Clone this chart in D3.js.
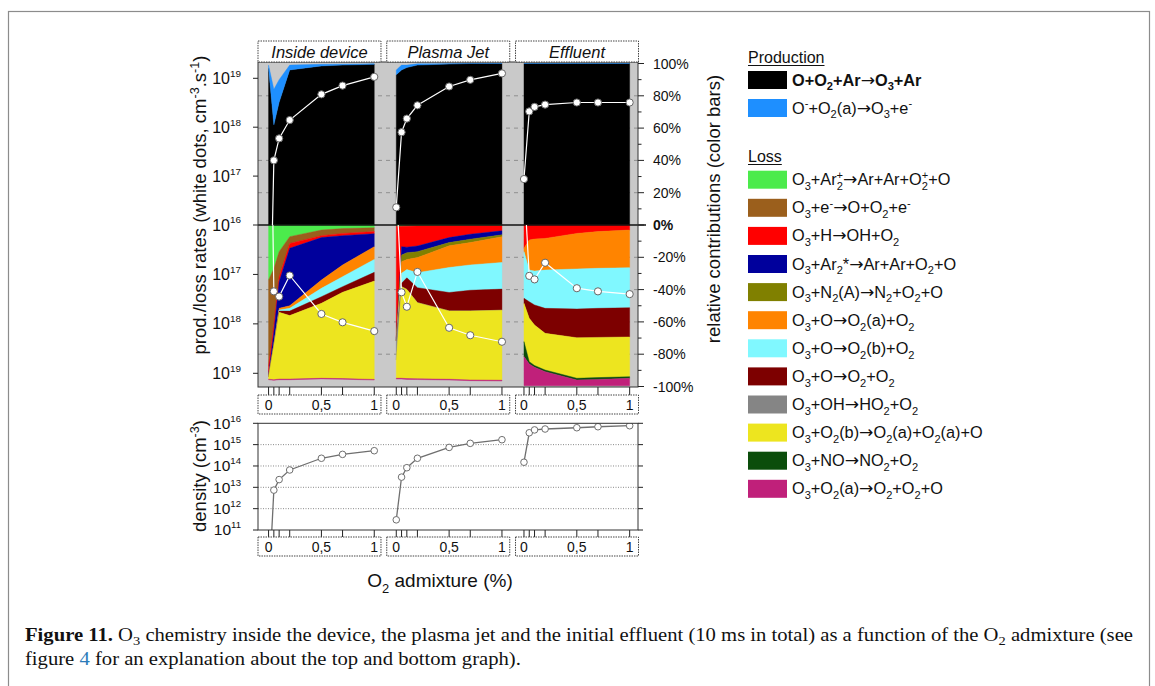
<!DOCTYPE html>
<html><head><meta charset="utf-8">
<script src="https://cdn.jsdelivr.net/npm/d3@7"></script>
<style>
body{margin:0;background:#fff}
svg{display:block}
text{font-family:"Liberation Sans",Arial,Helvetica,sans-serif;fill:#111}
</style>
</head><body>
<svg id="c" width="1155" height="686"></svg>
<script>
// ---------------- DATA ----------------
const panels = ["Inside device", "Plasma Jet", "Effluent"];
const o2Admixture = [0, 0.05, 0.1, 0.2, 0.5, 0.7, 1];
const xTickValues = [0, 0.5, 1];
const xTickLabels = ["0", "0,5", "1"];
const percentTicks = [100, 80, 60, 40, 20, 0, -20, -40, -60, -80, -100];
const rateDecades = [16, 17, 18, 19];
const densityDecades = [11, 12, 13, 14, 15, 16];

const prodNames = ["O+O_2+Ar→O_3+Ar", "O^-+O_2(a)→O_3+e^-"];
const prodColors = ["#000000", "#1e8fff"];
const lossNames = [
  "O_3+Ar_2^+→Ar+Ar+O_2^++O",
  "O_3+e^-→O+O_2+e^-",
  "O_3+H→OH+O_2",
  "O_3+Ar_2*→Ar+Ar+O_2+O",
  "O_3+N_2(A)→N_2+O_2+O",
  "O_3+O→O_2(a)+O_2",
  "O_3+O→O_2(b)+O_2",
  "O_3+O→O_2+O_2",
  "O_3+OH→HO_2+O_2",
  "O_3+O_2(b)→O_2(a)+O_2(a)+O",
  "O_3+NO→NO_2+O_2",
  "O_3+O_2(a)→O_2+O_2+O"
];
const lossColors = ["#4ceb4c", "#9b5f1c", "#ff0000", "#00009c", "#808000", "#ff8400",
  "#80f8ff", "#7d0000", "#858585", "#ede51f", "#0b4d0b", "#c0207a"];

// relative contributions (%) — production (rows follow prodNames)
const prodInside   = [[97, 62, 76, 96, 98.5, 99, 99.5], [2, 22, 14, 3, 1, 0.6, 0.3]];
const prodJet      = [[93, 96, 97.5, 99, 99.7, 100, 100], [3, 3, 1.5, 0.8, 0.2, 0, 0]];
const prodEffluent = [[100, 100, 100, 100, 100, 100, 100], [0, 0, 0, 0, 0, 0, 0]];

// relative contributions (%) — loss (rows follow lossNames)
const lossInside = [
  [34, 27, 16.5, 7.2, 3.1, 2.2, 1.7],
  [53.6, 35.1, 15.5, 4.2, 3.5, 3, 2.4],
  [4.8, 4.1, 3.1, 3.0, 1.2, 1.4, 1.3],
  [1.6, 8.3, 16.5, 35.6, 26.3, 18.2, 8.0],
  [0, 0, 0, 0, 0, 0, 0],
  [0, 0, 1, 1.6, 5.1, 7.2, 7.9],
  [0, 0, 0.7, 1.7, 5.2, 6.2, 8],
  [0, 0, 0.8, 2.8, 4.1, 3.5, 5.4],
  [0, 0, 0, 0, 0, 0, 0],
  [1.5, 21.3, 41.3, 39.3, 46.4, 53.4, 60.9],
  [0, 0, 0, 0, 0, 0, 0],
  [0.3, 0.4, 0.4, 0.4, 0.4, 0.4, 0.4]
];
const lossJet = [
  [0.5, 0.4, 0.3, 0.3, 0.3, 0.3, 0.3],
  [0.5, 0.6, 0.4, 0.3, 0.2, 0.2, 0.2],
  [69.2, 12.4, 13, 12.4, 7.3, 5.2, 3.1],
  [1, 5.2, 3.5, 3.5, 3.1, 3.1, 2.5],
  [0.6, 4.1, 4.2, 3.7, 2, 2.1, 1.2],
  [0, 7.2, 6.2, 9.3, 13.4, 13.8, 15.9],
  [0, 6.2, 5.1, 9.3, 15.5, 15.7, 16.5],
  [0, 2.1, 7.2, 9.3, 11.4, 12.8, 13.1],
  [11.8, 0, 0, 0, 0, 0, 0],
  [11.3, 56.7, 55.2, 47.1, 42.3, 42.7, 43.3],
  [0, 0, 0, 0, 0, 0, 0],
  [0.5, 0.5, 0.5, 0.5, 0.5, 0.5, 0.5]
];
const lossEffluent = [
  [0, 0, 0, 0, 0, 0, 0],
  [0, 0, 0, 0, 0, 0, 0],
  [14.4, 9.3, 8.7, 8.3, 5.2, 4.1, 3.1],
  [0, 0, 0, 0, 0, 0, 0],
  [0, 0, 0, 0, 0, 0, 0],
  [2.1, 18.6, 19.8, 19.6, 22, 22.7, 23.3],
  [28.9, 19.6, 21, 23.7, 24.8, 24.8, 24.8],
  [3.1, 10.3, 12.4, 15.5, 17.8, 18, 18.1],
  [0, 0, 0, 0, 0, 0, 0],
  [23.7, 26.8, 25.1, 22.7, 25.1, 24.9, 24.6],
  [9.3, 1.5, 1.1, 1.0, 1.1, 1.1, 1.0],
  [18, 13.4, 11.4, 8.7, 3.5, 3.9, 4.6]
];

// absolute rates (white dots, cm^-3 s^-1)
const prodRateInside   = [2e12, 2.1e17, 5.9e17, 1.4e18, 4.7e18, 7.1e18, 1.07e19];
const prodRateJet      = [2.3e16, 7.9e17, 1.5e18, 2.8e18, 6.8e18, 9.3e18, 1.26e19];
const prodRateEffluent = [8.7e16, 2.1e18, 2.6e18, 2.9e18, 3.2e18, 3.2e18, 3.2e18];
const lossRateInside   = [1e10, 2.2e17, 2.8e17, 1.05e17, 6.3e17, 9.3e17, 1.4e18];
const lossRateJet      = [1.6e15, 2.3e17, 4.5e17, 8.9e16, 1.2e18, 1.7e18, 2.3e18];
const lossRateEffluent = [1.3e15, 1.07e17, 1.26e17, 5.8e16, 1.9e17, 2.2e17, 2.5e17];

// O3 density (cm^-3)
const densityInside   = [1e8, 7.4e12, 2.3e13, 6.5e13, 2.3e14, 3.5e14, 5.2e14];
const densityJet      = [3e11, 3e13, 8.3e13, 2.3e14, 7.4e14, 1.15e15, 1.7e15];
const densityEffluent = [1.5e14, 3.6e15, 4.9e15, 5.4e15, 6.2e15, 6.9e15, 7.7e15];

const prodShares = [prodInside, prodJet, prodEffluent];
const lossShares = [lossInside, lossJet, lossEffluent];
const prodRates = [prodRateInside, prodRateJet, prodRateEffluent];
const lossRates = [lossRateInside, lossRateJet, lossRateEffluent];
const densities = [densityInside, densityJet, densityEffluent];

// ---------------- LAYOUT ----------------
const svg = d3.select("#c");
const L = 258, R = 638, T = 62, MID = 225, B = 387;
const dT = 423.3, dB = 530;

const boxBand = d3.scaleBand().domain(panels).range([L, R + 0.5]).paddingInner(0.045);
const dataBand = d3.scaleBand().domain(panels).range([L, 636]).paddingInner(0.04);
const xFor = p => d3.scaleLinear().domain([-0.1, 1.06]).range([dataBand(p), dataBand(p) + dataBand.bandwidth()]);
const yPct = d3.scaleLinear().domain([-100, 100]).range([386.5, 63.5]);
const yProd = d3.scaleLog().domain([1e16, 1e19]).range([MID, 78.3]);
const yLoss = d3.scaleLog().domain([1e16, 1e19]).range([MID, 373.3]);
const yDen = d3.scaleLog().domain([1e11, 1e16]).range([dB, dT]);

function rich(sel, str, fs) {
  const segs = [];
  let i = 0;
  while (i < str.length) {
    const c = str[i];
    if (c === "_" || c === "^") { segs.push({ t: str[i + 1], k: c === "_" ? "sub" : "sup" }); i += 2; }
    else if (c === "→") { segs.push({ t: "→", k: "arr" }); i++; }
    else { let s = ""; while (i < str.length && str[i] !== "_" && str[i] !== "^" && str[i] !== "→") { s += str[i]; i++; } segs.push({ t: s, k: "n" }); }
  }
  let cur = 0, prev = "n";
  segs.forEach(s => {
    const ts = sel.append("tspan").text(s.t);
    const target = s.k === "sub" ? fs * 0.3 : s.k === "sup" ? -fs * 0.4 : 0;
    ts.attr("dy", target - cur); cur = target;
    if (s.k === "sub" || s.k === "sup") ts.attr("font-size", fs * 0.68);
    if (s.k === "arr") ts.style("font-family", "'DejaVu Sans',sans-serif").attr("font-size", fs * 1.05).attr("font-weight", "normal");
    if (s.k === "sup" && prev === "sub") ts.attr("dx", -fs * 0.68 * 0.56);
    prev = s.k;
  });
}

// outer frame
svg.append("rect").attr("x", 8.5).attr("y", 11.5).attr("width", 1141).attr("height", 700)
  .attr("fill", "none").attr("stroke", "#8c8c8c").attr("stroke-width", 1.2);

// clip paths
const defs = svg.append("defs");
defs.append("clipPath").attr("id", "cpProd").append("rect").attr("x", L).attr("y", T).attr("width", R - L).attr("height", MID - T);
defs.append("clipPath").attr("id", "cpLoss").append("rect").attr("x", L).attr("y", MID).attr("width", R - L).attr("height", B - MID);
defs.append("clipPath").attr("id", "cpDen").append("rect").attr("x", L).attr("y", dT).attr("width", R - L).attr("height", dB - dT);

// gray background
svg.append("rect").attr("x", L).attr("y", T).attr("width", R - L).attr("height", B - T).attr("fill", "#c9c9c9");

// dashed percent grid
svg.append("g").selectAll("line").data(percentTicks.filter(v => Math.abs(v) !== 100 && v !== 0)).join("line")
  .attr("x1", L).attr("x2", R).attr("y1", d => yPct(d)).attr("y2", d => yPct(d))
  .attr("stroke", "#8f8f8f").attr("stroke-width", 1).attr("stroke-dasharray", "4,4");

// stacked areas
panels.forEach((p, i) => {
  const x = xFor(p);
  const g = svg.append("g");
  const prod = prodShares[i];
  const rowsP = o2Admixture.map((v, j) => { const r = { x: v }; prod.forEach((s, k) => r["k" + k] = s[j]); return r; });
  const stP = d3.stack().keys(prod.map((_, k) => "k" + k))(rowsP);
  stP.forEach((layer, k) => {
    g.append("path").attr("d", d3.area().x(d => x(d.data.x)).y0(d => yPct(d[0])).y1(d => yPct(d[1]))(layer))
      .attr("fill", prodColors[k]).attr("stroke", prodColors[k]).attr("stroke-width", 0.4);
  });
  const loss = lossShares[i];
  const rowsL = o2Admixture.map((v, j) => { const r = { x: v }; loss.forEach((s, k) => r["k" + k] = s[j]); return r; });
  const stL = d3.stack().keys(loss.map((_, k) => "k" + k))(rowsL);
  stL.forEach((layer, k) => {
    if (d3.max(layer, d => d[1] - d[0]) <= 0) return;
    g.append("path").attr("d", d3.area().x(d => x(d.data.x)).y0(d => yPct(-d[0])).y1(d => yPct(-d[1]))(layer))
      .attr("fill", lossColors[k]).attr("stroke", lossColors[k]).attr("stroke-width", 0.4);
  });
});

// zero line
svg.append("line").attr("x1", L).attr("x2", 646).attr("y1", yPct(0)).attr("y2", yPct(0)).attr("stroke", "#111").attr("stroke-width", 1.6);

// white-dot rate lines
panels.forEach((p, i) => {
  const x = xFor(p);
  [[prodRates[i], yProd, "cpProd"], [lossRates[i], yLoss, "cpLoss"]].forEach(([vals, ys, cp]) => {
    const pts = o2Admixture.map((v, j) => ({ x: v, y: vals[j] }));
    const g = svg.append("g").attr("clip-path", `url(#${cp})`);
    g.append("path").attr("d", d3.line().x(d => x(d.x)).y(d => ys(d.y))(pts))
      .attr("fill", "none").attr("stroke", "#ffffff").attr("stroke-width", 1.2);
    g.selectAll("circle").data(pts.filter(d => d.y >= 1e16)).join("circle")
      .attr("cx", d => x(d.x)).attr("cy", d => ys(d.y)).attr("r", 3.6)
      .attr("fill", "#ffffff").attr("stroke", "#666").attr("stroke-width", 1);
  });
});

// top plot frame
svg.append("rect").attr("x", L).attr("y", T).attr("width", R - L).attr("height", B - T)
  .attr("fill", "none").attr("stroke", "#333").attr("stroke-width", 1);

// right percent axis
const minorPct = d3.range(-90, 100, 20);
svg.append("g").selectAll("line").data(percentTicks).join("line")
  .attr("x1", R).attr("x2", R + 6).attr("y1", d => yPct(d)).attr("y2", d => yPct(d)).attr("stroke", "#222");
svg.append("g").selectAll("line").data(minorPct).join("line")
  .attr("x1", R).attr("x2", R + 3.5).attr("y1", d => yPct(d)).attr("y2", d => yPct(d)).attr("stroke", "#222");
svg.append("g").selectAll("text").data(percentTicks).join("text")
  .attr("x", 653).attr("y", d => yPct(d) + 5).attr("font-size", 14)
  .attr("font-weight", d => d === 0 ? "bold" : "normal").text(d => d + "%");

// left log axes (upper: production, lower: loss)
function decadeLabel(g, y, n, fs) {
  const t = g.append("text").attr("x", 241).attr("y", y + fs * 0.35).attr("text-anchor", "end").attr("font-size", fs);
  t.append("tspan").text("10");
  t.append("tspan").attr("dy", -fs * 0.45).attr("font-size", fs * 0.62).text(n);
}
const gl = svg.append("g");
rateDecades.forEach(n => {
  const y = yProd(Math.pow(10, n));
  gl.append("line").attr("x1", L - 5).attr("x2", L).attr("y1", y).attr("y2", y).attr("stroke", "#222");
  decadeLabel(gl, y, n, 16);
});
rateDecades.filter(n => n > 16).forEach(n => {
  const y = yLoss(Math.pow(10, n));
  gl.append("line").attr("x1", L - 5).attr("x2", L).attr("y1", y).attr("y2", y).attr("stroke", "#222");
  decadeLabel(gl, y, n, 16);
});

// title boxes
panels.forEach(p => {
  svg.append("rect").attr("x", boxBand(p)).attr("y", 41).attr("width", boxBand.bandwidth()).attr("height", 21)
    .attr("fill", "#fff").attr("stroke", "#444").attr("stroke-dasharray", "1.5,1");
  svg.append("text").attr("x", boxBand(p) + boxBand.bandwidth() / 2).attr("y", 57.5).attr("text-anchor", "middle")
    .attr("font-size", 16.5).attr("font-style", "italic").text(p);
});

// x tick boxes & ticks
function xTickRow(yTickTop, boxY) {
  panels.forEach(p => {
    const x = xFor(p);
    svg.append("g").selectAll("line").data(o2Admixture).join("line")
      .attr("x1", d => x(d)).attr("x2", d => x(d)).attr("y1", yTickTop).attr("y2", boxY).attr("stroke", "#222");
    svg.append("rect").attr("x", boxBand(p)).attr("y", boxY).attr("width", boxBand.bandwidth()).attr("height", 19)
      .attr("fill", "#fff").attr("stroke", "#444").attr("stroke-dasharray", "1.5,1");
    svg.append("g").selectAll("text").data(xTickValues).join("text")
      .attr("x", d => x(d)).attr("y", boxY + 15).attr("text-anchor", "middle").attr("font-size", 14)
      .text((d, k) => xTickLabels[k]);
  });
}
xTickRow(B, 395);
xTickRow(dB, 537);

// density plot
const gd = svg.append("g");
gd.selectAll("line.grid").data(densityDecades.filter(n => n > 11 && n < 16)).join("line")
  .attr("x1", L).attr("x2", R).attr("y1", n => yDen(Math.pow(10, n))).attr("y2", n => yDen(Math.pow(10, n)))
  .attr("stroke", "#8a8a8a").attr("stroke-dasharray", "1,1.5");
densityDecades.forEach(n => {
  const y = yDen(Math.pow(10, n));
  gd.append("line").attr("x1", L - 5).attr("x2", L).attr("y1", y).attr("y2", y).attr("stroke", "#222");
  gd.append("line").attr("x1", R).attr("x2", R + 5).attr("y1", y).attr("y2", y).attr("stroke", "#222");
  decadeLabel(gd, y, n, 15.5);
});
panels.forEach((p, i) => {
  const x = xFor(p);
  const pts = o2Admixture.map((v, j) => ({ x: v, y: densities[i][j] }));
  const g = svg.append("g").attr("clip-path", "url(#cpDen)");
  g.append("path").attr("d", d3.line().x(d => x(d.x)).y(d => yDen(d.y))(pts))
    .attr("fill", "none").attr("stroke", "#6f6f6f").attr("stroke-width", 1.3);
  g.selectAll("circle").data(pts.filter(d => d.y >= 1e11)).join("circle")
    .attr("cx", d => x(d.x)).attr("cy", d => yDen(d.y)).attr("r", 3.3)
    .attr("fill", "#fff").attr("stroke", "#6f6f6f").attr("stroke-width", 1);
});
svg.append("rect").attr("x", L).attr("y", dT).attr("width", R - L).attr("height", dB - dT)
  .attr("fill", "none").attr("stroke", "#333").attr("stroke-width", 1);

// axis titles
const yl = svg.append("text").attr("transform", "translate(206,205) rotate(-90)").attr("text-anchor", "middle").attr("font-size", 18.5);
rich(yl, "prod./loss rates (white dots, cm^-^3.s^-^1)", 18.5);
const dl = svg.append("text").attr("transform", "translate(206,476) rotate(-90)").attr("text-anchor", "middle").attr("font-size", 18.5);
rich(dl, "density (cm^-^3)", 18.5);
const rl = svg.append("text").attr("transform", "translate(720,209) rotate(-90)").attr("text-anchor", "middle").attr("font-size", 18.5);
rl.text("relative contributions (color bars)");
const xl = svg.append("text").attr("x", 440).attr("y", 587).attr("text-anchor", "middle").attr("font-size", 19);
rich(xl, "O_2 admixture (%)", 19);

// legend
const LX = 748, TX = 792, FS = 16.3;
function legHeader(txt, y) {
  const t = svg.append("text").attr("x", LX).attr("y", y).attr("font-size", 16).text(txt);
  const w = t.node().getComputedTextLength();
  svg.append("line").attr("x1", LX).attr("x2", LX + w).attr("y1", y + 2.5).attr("y2", y + 2.5).attr("stroke", "#111").attr("stroke-width", 1);
}
legHeader("Production", 63);
prodNames.forEach((n, k) => {
  const top = 71 + 28 * k;
  svg.append("rect").attr("x", LX).attr("y", top).attr("width", 39).attr("height", 18).attr("fill", prodColors[k]);
  const t = svg.append("text").attr("x", TX).attr("y", top + 14.5).attr("font-size", FS).attr("font-weight", k === 0 ? "bold" : "normal");
  rich(t, n, FS);
});
legHeader("Loss", 162);
lossNames.forEach((n, k) => {
  const top = 170.7 + 28.1 * k;
  svg.append("rect").attr("x", LX).attr("y", top).attr("width", 39).attr("height", 18).attr("fill", lossColors[k]);
  const t = svg.append("text").attr("x", TX).attr("y", top + 14.5).attr("font-size", FS);
  rich(t, n, FS);
});

// caption
const CF = 18.5;
const serif = "'Liberation Serif','Times New Roman',serif";
const c1 = svg.append("text").attr("x", 25).attr("y", 641).attr("font-size", CF).style("font-family", serif);
c1.append("tspan").attr("font-weight", "bold").text("Figure 11.");
c1.append("tspan").text(" O");
c1.append("tspan").attr("dy", 4).attr("font-size", CF * 0.7).text("3");
c1.append("tspan").attr("dy", -4).text(" chemistry inside the device, the plasma jet and the initial effluent (10\u00a0ms in total) as a function of the O");
c1.append("tspan").attr("dy", 4).attr("font-size", CF * 0.7).text("2");
c1.append("tspan").attr("dy", -4).text(" admixture (see");
const c2 = svg.append("text").attr("x", 25).attr("y", 665).attr("font-size", CF).style("font-family", serif);
c2.append("tspan").text("figure ");
c2.append("tspan").style("fill", "#2b7bb9").text("4");
c2.append("tspan").text(" for an explanation about the top and bottom graph).");
const w1 = c1.node().getComputedTextLength();
const ratio = 1108 / w1;
const w2 = c2.node().getComputedTextLength();
c1.attr("textLength", 1108).attr("lengthAdjust", "spacingAndGlyphs");
c2.attr("textLength", w2 * ratio).attr("lengthAdjust", "spacingAndGlyphs");
</script>
</body></html>
